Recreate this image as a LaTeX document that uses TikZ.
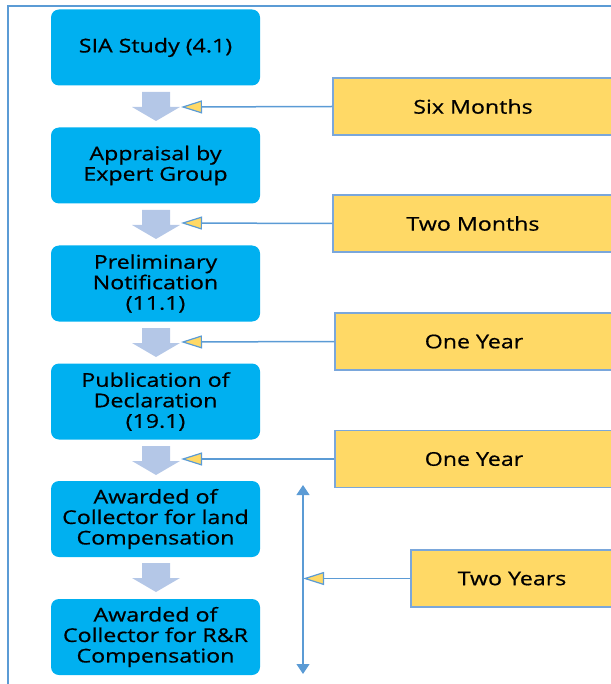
\documentclass[tikz,border=0pt]{standalone}
\usepackage{fontspec}
\setmainfont{Open Sans}[FakeStretch=1.22,FakeBold=0.6]
\usetikzlibrary{arrows.meta,positioning}
\definecolor{boxblue}{HTML}{00B0F0}
\definecolor{arrowblue}{HTML}{B4C7E7}
\definecolor{lineblue}{HTML}{5B9BD5}
\definecolor{yel}{HTML}{FFD966}
\definecolor{ybord}{HTML}{7AA7DB}
\tikzset{
  stepbox/.style={rounded corners=8pt, fill=boxblue, minimum width=209pt, minimum height=76pt,
    align=center, inner sep=0pt, font=\fontsize{19}{20.5}\selectfont, text=black},
  timebox/.style={fill=yel, draw=ybord, line width=1.5pt, minimum height=57pt, inner sep=0pt,
    font=\fontsize{19}{20.5}\selectfont, text=black},
  blockarrow/.style={fill=arrowblue},
  pointer/.style={draw=lineblue, line width=1.5pt, -{Triangle[length=21pt,width=13pt,fill=yel,line width=1.2pt]}},
  spanarrow/.style={draw=lineblue, line width=1.2pt, {Triangle[length=10pt,width=13pt]}-{Triangle[length=10pt,width=13pt]}},
}
\begin{document}
\begin{tikzpicture}[x=1pt,y=-1pt]
\useasboundingbox (0,0) rectangle (610,684);
% frame
\draw[lineblue, line width=1.6pt] (8,684) -- (8,6) -- (612,6);
% step boxes
\node[stepbox] (s1) at (155.5,47.5) {SIA Study (4.1)};
\node[stepbox] (s2) at (155.5,165.5) {Appraisal by\\Expert Group};
\node[stepbox] (s3) at (155.5,283.5) {Preliminary\\Notification\\(11.1)};
\node[stepbox] (s4) at (155.5,401.5) {Publication of\\Declaration\\(19.1)};
\node[stepbox] (s5) at (155.5,519) {Awarded of\\Collector for land\\Compensation};
\node[stepbox] (s6) at (155.5,637) {Awarded of\\Collector for R\&R\\Compensation};
% block arrows
\foreach \y in {92,210,328,446,563}{
  \fill[blockarrow] (142,\y) -- (170,\y) -- (170,\y+15) -- (180,\y+15) -- (156,\y+29) -- (132,\y+15) -- (142,\y+15) -- cycle;
}
% time boxes
\node[timebox, minimum width=280pt] (t1) at (473,106.5) {Six Months};
\node[timebox, minimum width=280pt] (t2) at (473,223.5) {Two Months};
\node[timebox, minimum width=278pt] (t3) at (474,341.5) {One Year};
\node[timebox, minimum width=278pt] (t4) at (474,459) {One Year};
\node[timebox, minimum width=202pt] (t5) at (512,578.5) {Two Years};
% pointer coordinates
\coordinate (p1) at (181,107);
\coordinate (p2) at (181,223);
\coordinate (p3) at (181,342);
\coordinate (p4) at (181,459);
\coordinate (p5) at (303,578.5);
\coordinate (v1) at (303,485);
\coordinate (v2) at (303,674);
\draw[pointer] (t1.west) -- (p1);
\draw[pointer] (t2.west) -- (p2);
\draw[pointer] (t3.west) -- (p3);
\draw[pointer] (t4.west) -- (p4);
\draw[spanarrow] (v1) -- (v2);
\draw[pointer] (t5.west) -- (p5);
\end{tikzpicture}
\end{document}
